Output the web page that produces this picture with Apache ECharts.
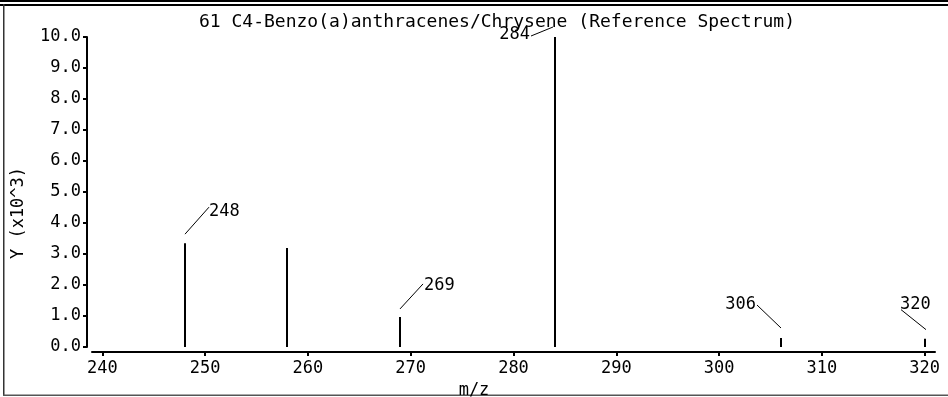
<!DOCTYPE html>
<html>
<head>
<meta charset="utf-8">
<script src="https://cdn.jsdelivr.net/npm/echarts@6/dist/echarts.min.js"></script>
<style>
html,body{margin:0;padding:0;background:#fff;}
#chart{width:948px;height:397px;}
</style>
</head>
<body>
<div id="chart"></div>
<script>
// ---- data ----
const titleText = '61 C4-Benzo(a)anthracenes/Chrysene (Reference Spectrum)';
const xAxisName = 'm/z';
const yAxisName = 'Y (x10^3)';
const mzValues = [248, 258, 269, 284, 306, 320];
const intensities = [3.35, 3.19, 0.97, 10.0, 0.29, 0.27];
const peakLabels = ['248', '', '269', '284', '306', '320'];
const xTickValues = [240, 250, 260, 270, 280, 290, 300, 310, 320];

// ---- style / layout ----
const FONT = '"DejaVu Sans Mono", "Liberation Mono", monospace';
const FS = 17;
// leader-line / label layout relative to each peak top, in pixels
const LABEL_LAYOUT = {
  '248': { line: [0, -9, 24, -36], text: [24, -32], align: 'left' },
  '269': { line: [0, -8, 23, -33], text: [24, -31], align: 'left' },
  '284': { line: [-24, -1, -2, -10], text: [-25, -2], align: 'right' },
  '306': { line: [-24, -33, 0, -10], text: [-25, -33], align: 'right' },
  '320': { line: [-24, -29, 1, -9], text: [-25, -34], align: 'left' }
};

const chart = echarts.init(document.getElementById('chart'), null, { renderer: 'canvas' });

const seriesData = mzValues.map((m, i) => [m, intensities[i]]);

const option = {
  backgroundColor: '#fff',
  animation: false,
  title: {
    text: titleText,
    left: 194,
    top: 8,
    textStyle: { fontFamily: FONT, fontSize: 18, fontWeight: 'normal', color: '#000' }
  },
  grid: { left: 92, right: 13, top: 37, bottom: 50, containLabel: false, outerBoundsMode: 'none' },
  xAxis: {
    type: 'value',
    min: 239,
    max: 321,
    offset: 5,
    name: xAxisName,
    nameLocation: 'middle',
    nameGap: 22,
    nameTextStyle: { fontFamily: FONT, fontSize: FS, color: '#000', padding: [0, 79, 0, 0] },
    axisLine: { show: true, onZero: false, lineStyle: { color: '#000', width: 2 } },
    axisTick: { show: true, inside: false, length: 4, customValues: xTickValues, lineStyle: { color: '#000', width: 2 } },
    axisLabel: { customValues: xTickValues, margin: 8, fontFamily: FONT, fontSize: FS, color: '#000' },
    splitLine: { show: false }
  },
  yAxis: {
    type: 'value',
    min: 0,
    max: 10,
    interval: 1,
    offset: 5,
    name: yAxisName,
    nameLocation: 'middle',
    nameGap: 60,
    nameTextStyle: { fontFamily: FONT, fontSize: FS, color: '#000', padding: [0, 42, 0, 0] },
    axisLine: { show: true, onZero: false, lineStyle: { color: '#000', width: 2 } },
    axisTick: { show: true, inside: false, length: 4, lineStyle: { color: '#000', width: 2 } },
    axisLabel: { margin: 6, fontFamily: FONT, fontSize: FS, color: '#000', formatter: v => v.toFixed(1) },
    splitLine: { show: false }
  },
  graphic: [
    { type: 'rect', shape: { x: 0, y: 0, width: 948, height: 2 }, style: { fill: '#000' } },
    { type: 'rect', shape: { x: 0, y: 4, width: 948, height: 2 }, style: { fill: '#000' } },
    { type: 'rect', shape: { x: 3, y: 4, width: 1.5, height: 392 }, style: { fill: '#333' } },
    { type: 'rect', shape: { x: 3, y: 394.5, width: 945, height: 1.5 }, style: { fill: '#555' } }
  ],
  series: [{
    type: 'custom',
    clip: false,
    data: seriesData,
    renderItem: function (params, api) {
      const mz = api.value(0), inten = api.value(1);
      const base = api.coord([mz, 0]);
      const top = api.coord([mz, inten]);
      const x = Math.round(base[0]);
      const children = [{
        type: 'line',
        shape: { x1: x, y1: base[1], x2: x, y2: top[1] },
        style: { stroke: '#000', lineWidth: 2 }
      }];
      const lbl = peakLabels[params.dataIndex];
      if (lbl && LABEL_LAYOUT[lbl]) {
        const L = LABEL_LAYOUT[lbl];
        children.push({
          type: 'line',
          shape: { x1: x + L.line[0], y1: top[1] + L.line[1], x2: x + L.line[2], y2: top[1] + L.line[3] },
          style: { stroke: '#000', lineWidth: 1 }
        });
        children.push({
          type: 'text',
          x: x + L.text[0],
          y: top[1] + L.text[1],
          style: { text: lbl, font: FS + 'px ' + FONT, fill: '#000', align: L.align, verticalAlign: 'middle' }
        });
      }
      return { type: 'group', children: children };
    }
  }]
};

chart.setOption(option);
</script>
</body>
</html>
